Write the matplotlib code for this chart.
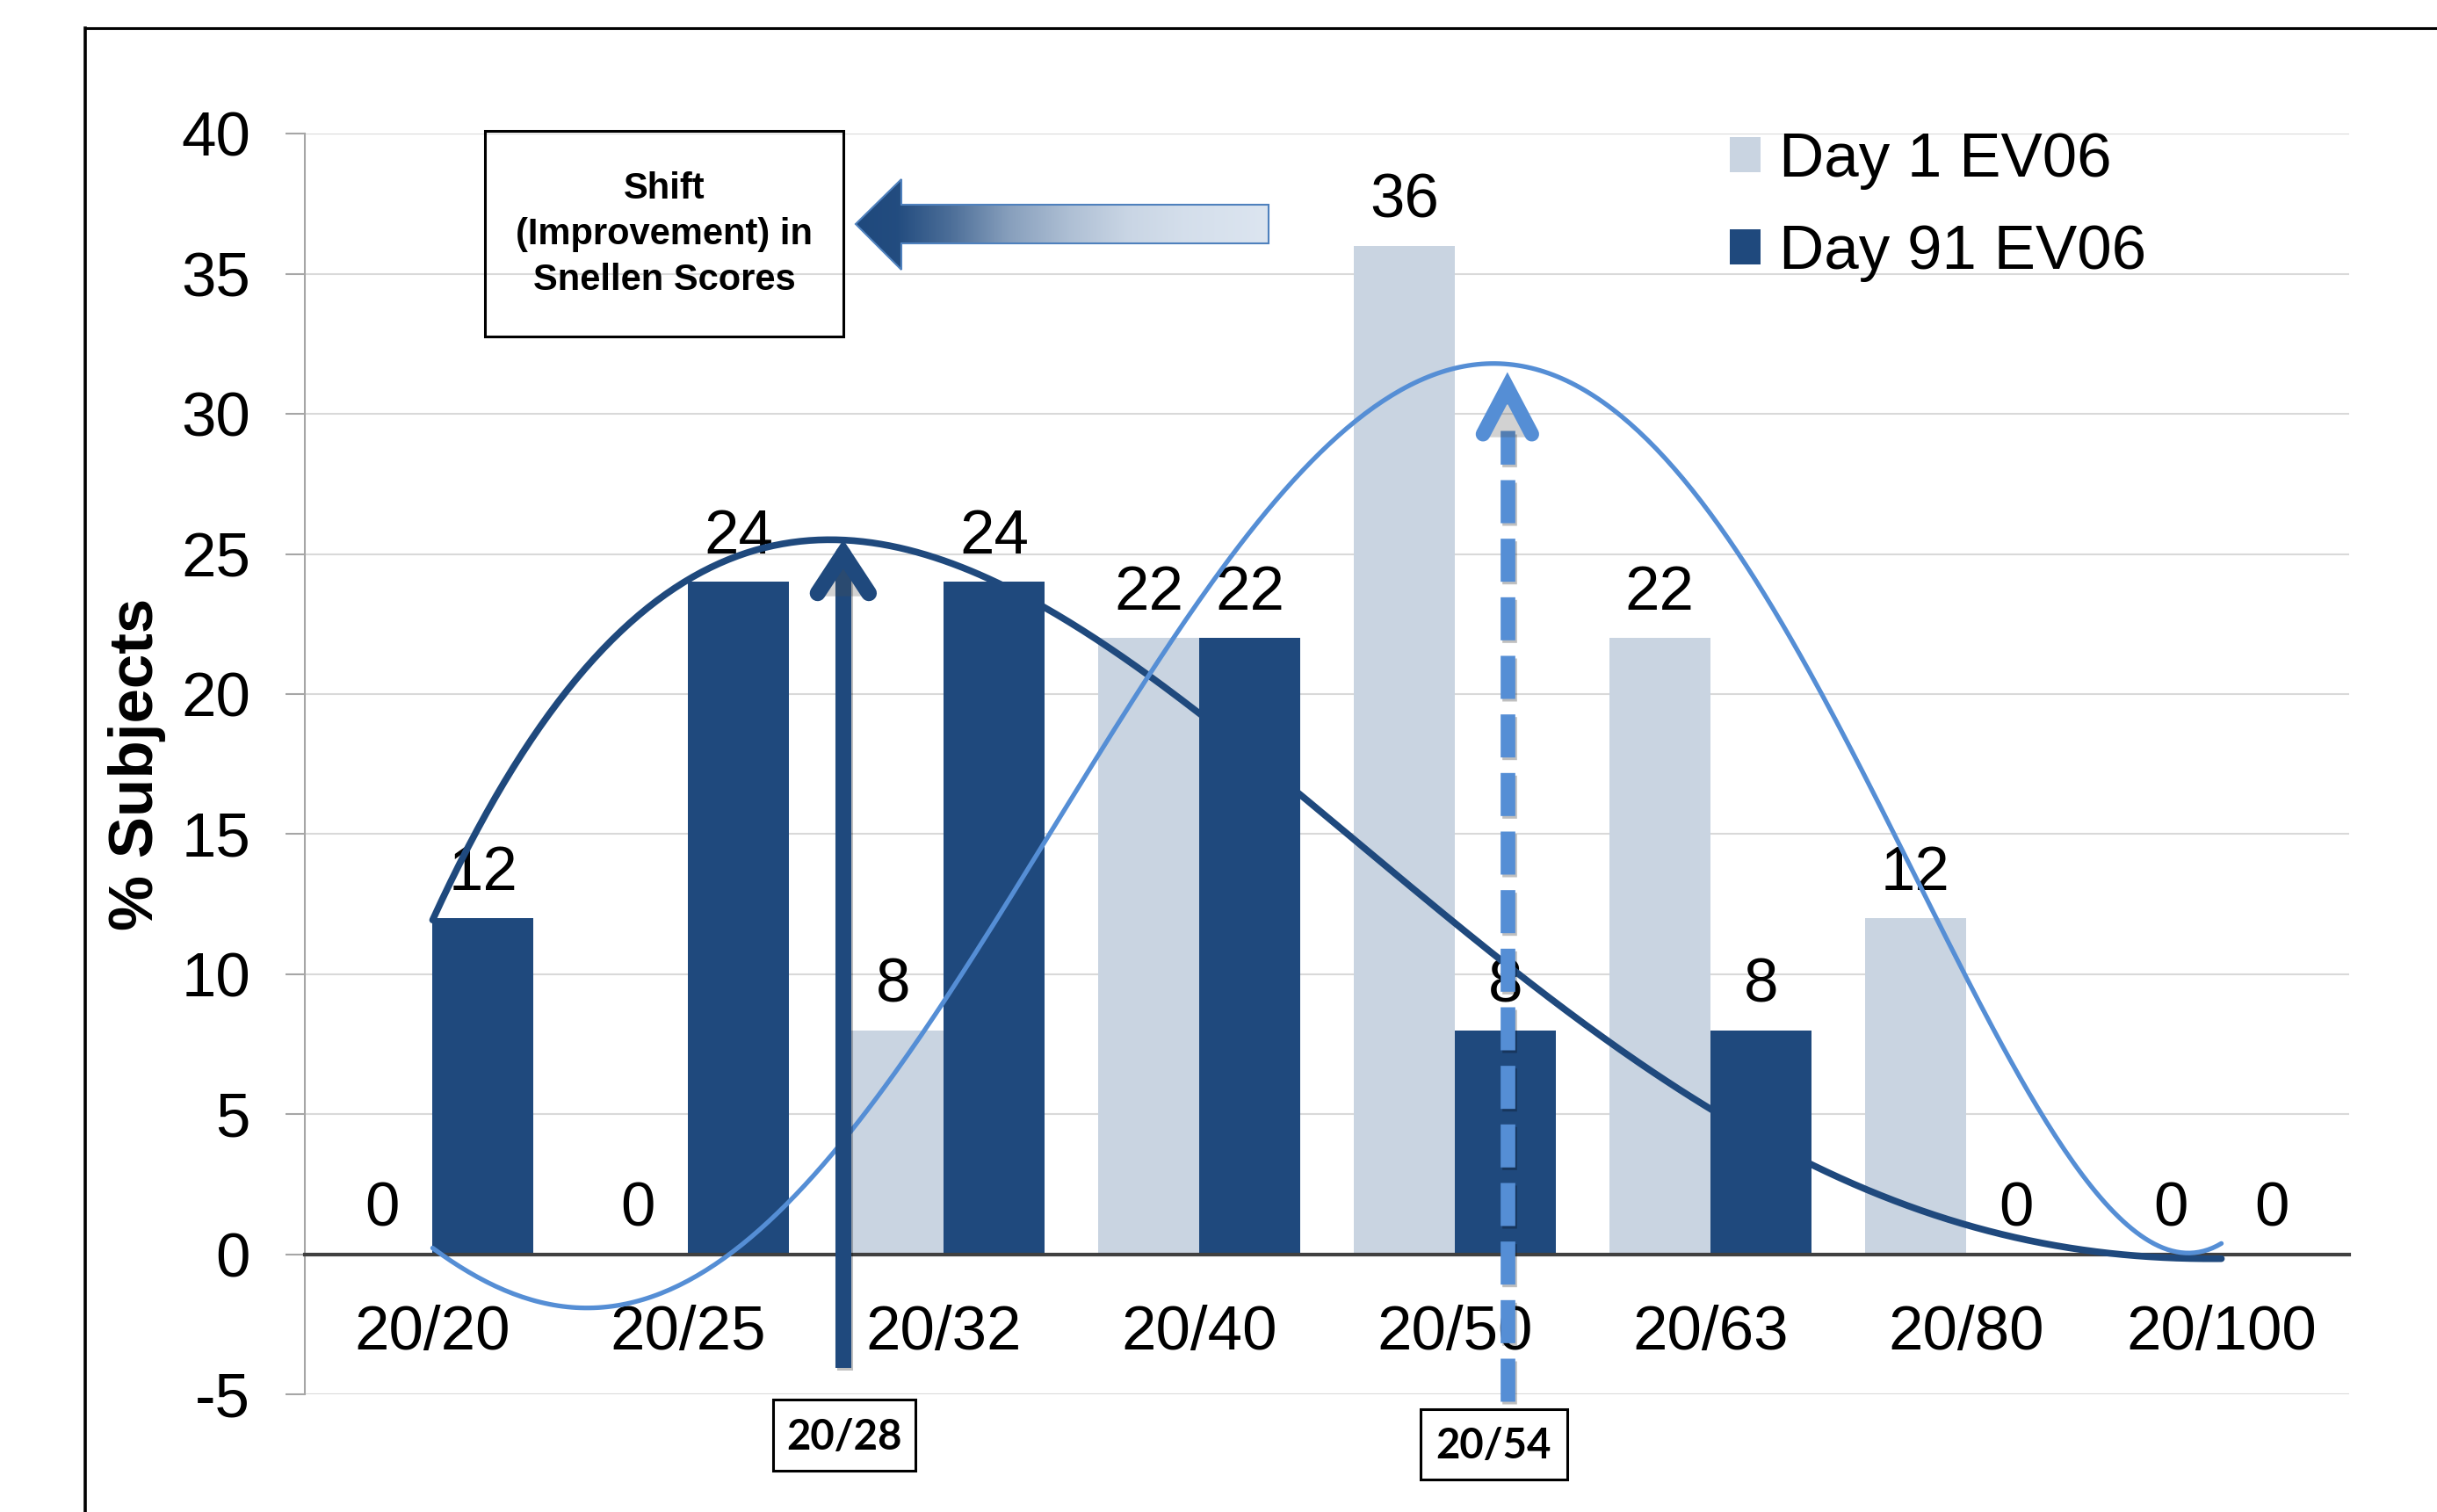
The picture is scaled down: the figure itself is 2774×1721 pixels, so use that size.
import numpy as np
import matplotlib.pyplot as plt
import matplotlib.patheffects as pe
from matplotlib.patches import Polygon, Rectangle, FancyArrowPatch

plt.rcParams['font.family'] = ['Liberation Sans', 'DejaVu Sans']
plt.rcParams['axes.unicode_minus'] = False

# Snellen categories and % of subjects at each visit
snellen = ['20/20', '20/25', '20/32', '20/40', '20/50', '20/63', '20/80', '20/100']
day1 = [0, 0, 8, 22, 36, 22, 12, 0]
day91 = [12, 24, 24, 22, 8, 8, 0, 0]
series_names = ['Day 1 EV06', 'Day 91 EV06']

# polynomial trendline order for each visit
order_day1 = 5
order_day91 = 4

# mean Snellen score of each visit, as a position on the category axis
mean_day91_pos, mean_day91_label = 1.607, '20/28'
mean_day1_pos, mean_day1_label = 4.206, '20/54'

shift_text = 'Shift\n(Improvement) in\nSnellen Scores'

W, H = 2774, 1721
DARK = '#1F497D'
LIGHT = '#C9D4E1'
TREND_LIGHT = '#558ED5'
FS = 51

fig = plt.figure(figsize=(W / 100, H / 100), dpi=100)
ax = fig.add_axes([347 / W, 1 - 1587 / H, (2674 - 347) / W, (1587 - 152.3) / H])

x = np.arange(len(snellen))
bw = 0.395
b1 = ax.bar(x - bw / 2, day1, bw, color=LIGHT, zorder=2)
b2 = ax.bar(x + bw / 2, day91, bw, color=DARK, zorder=2)

# value labels above each bar
for vals, off in ((day1, -bw / 2), (day91, bw / 2)):
    for xi, v in zip(x, vals):
        ax.annotate(f'{v}', (xi + off, v), xytext=(0, 23), textcoords='offset points',
                    ha='center', va='baseline', fontsize=FS, zorder=3)

# polynomial trendlines
xs = np.linspace(x[0], x[-1], 400)
fit1 = np.polyval(np.polyfit(x, day1, order_day1), xs)
fit91 = np.polyval(np.polyfit(x, day91, order_day91), xs)
ax.plot(xs, fit91, color=DARK, lw=5.5, zorder=4, solid_capstyle='round')
ax.plot(xs, fit1, color=TREND_LIGHT, lw=3.8, zorder=4, solid_capstyle='round')

shadow = [pe.SimpleLineShadow(offset=(1.5, -2.5), alpha=0.25), pe.Normal()]


def arrow_head(xpos, ytip, color, lw, hl, hw, shrink):
    head = FancyArrowPatch((xpos, ytip - 1.2), (xpos, ytip),
                           arrowstyle=f'->,head_length={hl},head_width={hw}',
                           mutation_scale=1, lw=lw, color=color,
                           shrinkA=0, shrinkB=shrink, zorder=6, clip_on=False)
    head.set_capstyle('round')
    head.set_joinstyle('miter')
    head.set_path_effects([pe.SimplePatchShadow(offset=(1.5, -2.5), alpha=0.25), pe.Normal()])
    ax.add_patch(head)


# Day 91 mean: solid arrow up to the trendline peak
peak91 = fit91.max()
ax.plot([mean_day91_pos, mean_day91_pos], [-4.05, peak91 - 1.0], color=DARK, lw=13,
        solid_capstyle='butt', zorder=6, clip_on=False, path_effects=shadow)
arrow_head(mean_day91_pos, peak91, DARK, 13, 32, 21, 0)

# Day 1 mean: dashed arrow up to the trendline peak
peak1 = fit1.max()
dash, = ax.plot([mean_day1_pos, mean_day1_pos], [-5.25, peak1 - 2.4], color=TREND_LIGHT,
                lw=12, solid_capstyle='butt', dash_capstyle='butt', zorder=6,
                clip_on=False, path_effects=shadow)
dash.set_dashes([2.94, 1.06])
arrow_head(mean_day1_pos, peak1, TREND_LIGHT, 12, 38, 20, 7)

ax.set_xlim(-0.5, len(snellen) - 0.5)
ax.set_ylim(-5, 40)
ax.set_yticks(range(-5, 41, 5))
ax.set_xticks(x)
ax.set_xticklabels(snellen)
ax.tick_params(axis='x', length=0, pad=41, labelsize=FS)
ax.tick_params(axis='y', length=15.8, width=1.5, color='#A6A6A6', pad=28.8, labelsize=FS)
ax.yaxis.grid(True, color='#D9D9D9', lw=1.5)
ax.set_axisbelow(True)
for s in ('top', 'right'):
    ax.spines[s].set_visible(False)
ax.spines['left'].set_color('#A6A6A6')
ax.spines['left'].set_linewidth(1.5)
ax.spines['bottom'].set_position(('data', 0))
ax.spines['bottom'].set_color('#404040')
ax.spines['bottom'].set_linewidth(3)
ax.spines['bottom'].set_zorder(2.5)

ax.set_ylabel('% Subjects', fontsize=FS, fontweight='bold')
ax.yaxis.set_label_coords(-0.0821, 0.5)
ax.yaxis.label.set_verticalalignment('center')

ax.legend([b1, b2], series_names, loc='upper left', bbox_to_anchor=(1969 / W, 1 - 150 / H),
          bbox_transform=fig.transFigure, frameon=False, fontsize=FS,
          handlelength=0.49, handleheight=0.49, handletextpad=0.3, labelspacing=0.55,
          borderpad=0, borderaxespad=0)

# overlay in pixel units for the slide furniture
ov = fig.add_axes([0, 0, 1, 1], zorder=5)
ov.set_xlim(0, W)
ov.set_ylim(H, 0)
ov.axis('off')
ov.patch.set_alpha(0)

# slide frame, running off the right and bottom edges
ov.plot([97, W + 20], [32, 32], color='black', lw=2.2, solid_capstyle='projecting')
ov.plot([97, 97], [32, H + 20], color='black', lw=2.6, solid_capstyle='projecting')

# shift text box
ov.add_patch(Rectangle((552, 149), 408, 234, fill=False, ec='black', lw=2.2))
ov.text(756, 267, shift_text, ha='center', va='center', fontsize=30, fontweight='bold',
        linespacing=1.38)

# gradient block arrow pointing left
pts = [(974, 255), (1026, 204), (1026, 233), (1444, 233), (1444, 277), (1026, 277), (1026, 307)]
poly = Polygon(pts, closed=True, fc='none', ec='#4F81BD', lw=1.5, zorder=3)
ov.add_patch(poly)
dark = np.array([31, 73, 125]) / 255
light = np.array([220, 229, 240]) / 255
f = np.linspace(0, 1, 600)
t = np.interp(f, [0, 0.1, 0.23, 0.37, 0.52, 0.66, 0.8, 1], [0, 0.02, 0.24, 0.55, 0.76, 0.9, 0.96, 1])
grad = dark[None, :] * (1 - t[:, None]) + light[None, :] * t[:, None]
img = ov.imshow(grad[None, :, :], extent=(974, 1444, 307, 204), aspect='auto', zorder=2)
img.set_clip_path(Polygon(pts, closed=True, transform=ov.transData))
ov.set_xlim(0, W)
ov.set_ylim(H, 0)

# mean score boxes under the arrows
for (bx, by, bwid, bht), lab in (((880, 1593, 162, 81), mean_day91_label),
                                 ((1617, 1604, 167, 80), mean_day1_label)):
    ov.add_patch(Rectangle((bx, by), bwid, bht, fill=False, ec='black', lw=2.2))
    ov.text(bx + bwid / 2, by + bht / 2 + 2, lab, ha='center', va='center', fontsize=34,
            fontweight='bold', family=['Lato', 'DejaVu Sans'])

fig.savefig('out.png', dpi=100)
